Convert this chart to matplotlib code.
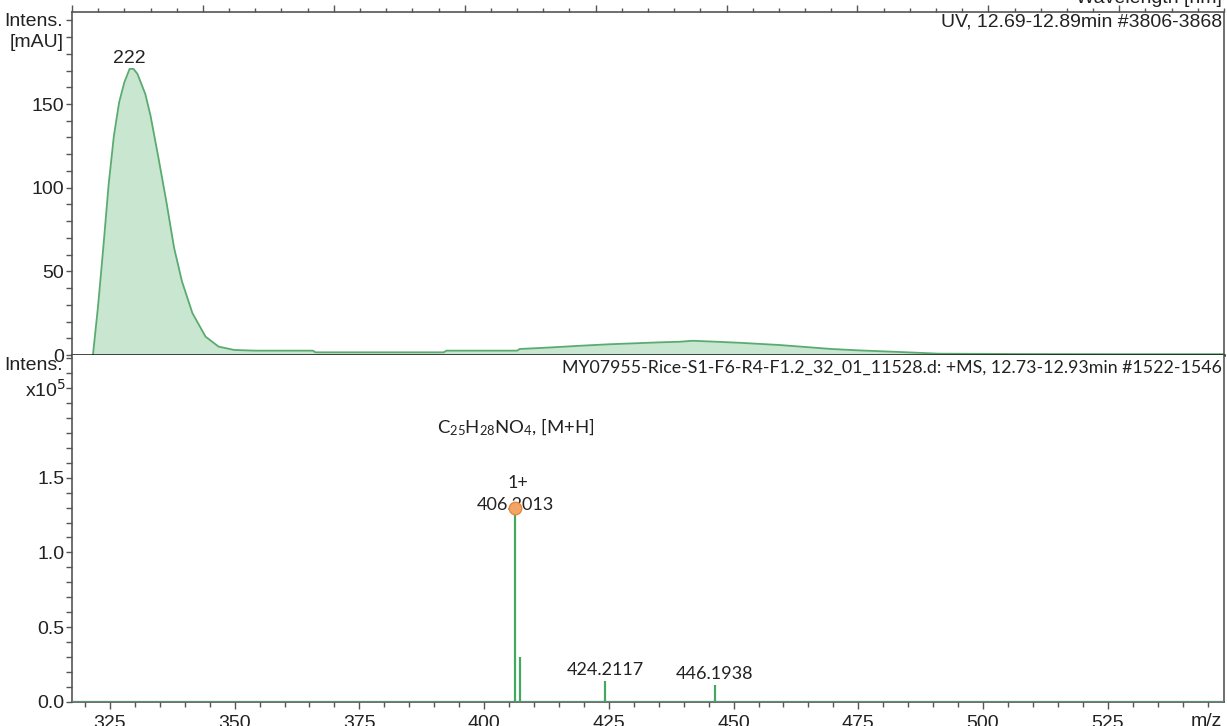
import matplotlib
matplotlib.use("Agg")
import numpy as np
import matplotlib.pyplot as plt
from matplotlib.ticker import MultipleLocator, FormatStrFormatter

plt.rcParams['font.family'] = ['Liberation Sans', 'DejaVu Sans']
plt.rcParams['mathtext.fontset'] = 'custom'
plt.rcParams['mathtext.rm'] = 'Lato'
plt.rcParams['mathtext.it'] = 'Lato:italic'
plt.rcParams['mathtext.bf'] = 'Lato:bold'

# --- UV spectrum (wavelength nm vs mAU) ---
uv_wl = [208, 210, 212, 214, 216, 218, 220, 222, 223.5, 225, 228, 230, 233, 236,
         239, 242, 246, 251, 256, 262, 270, 292, 293, 342, 343, 370, 371, 379,
         386, 395, 405, 415, 425, 432, 437, 445, 455, 470, 480, 490, 500, 516,
         531, 560, 600, 640]
uv_int = [0, 30, 65, 102, 131, 151, 163, 171, 171, 168, 156, 143, 118, 92,
          64, 44, 25, 11, 5, 3, 2.6, 2.6, 1.6, 1.6, 2.6, 2.6, 3.6, 4.2,
          4.8, 5.6, 6.4, 7.0, 7.6, 7.9, 8.5, 8.0, 7.3, 6.0, 4.8, 3.6, 2.8, 1.8,
          0.8, 0.6, 0.5, 0.5]
uv_peak_label = 222

# --- MS spectrum ---
ms_mz = [406.2013, 407.2046, 424.2117, 446.1938]
ms_int = [130000, 30200, 14200, 11500]
ms_labeled = [True, False, True, True]

uv_header = "UV, 12.69-12.89min #3806-3868"
ms_header = "MY07955-Rice-S1-F6-R4-F1.2_32_01_11528.d: +MS, 12.73-12.93min #1522-1546"
formula = r"C$_{25}$H$_{28}$NO$_{4}$, [M+H]"

green_fill = '#c9e6d1'
green_line = '#5aab70'
stick_green = '#45a862'
spine_grey = '#555555'
txt = '#222222'
fs = 14

W, H = 1227, 726
fig = plt.figure(figsize=(W / 100, H / 100), dpi=100)
ax_uv = fig.add_axes([72 / W, 1 - 355 / H, 1152 / W, 343 / H])
ax_ms = fig.add_axes([72 / W, 1 - 702 / H, 1152 / W, 347 / H])

# ---- UV panel ----
ax_uv.fill_between(uv_wl, uv_int, 0, color=green_fill, lw=0)
ax_uv.plot(uv_wl, uv_int, color=green_line, lw=1.3)
ax_uv.set_xlim(200, 640)
ax_uv.set_ylim(0, 205)
ax_uv.xaxis.tick_top()
ax_uv.set_xticks(np.arange(200, 650, 50))
ax_uv.set_xticklabels([str(v) if v < 600 else '' for v in range(200, 650, 50)])
ax_uv.xaxis.set_minor_locator(MultipleLocator(10))
ax_uv.set_yticks([0, 50, 100, 150])
ax_uv.yaxis.set_minor_locator(MultipleLocator(10))
ax_uv.tick_params(axis='x', which='major', direction='out', length=5, width=1,
                  pad=1.5, labelsize=fs, color=spine_grey, labelcolor=txt)
ax_uv.tick_params(axis='x', which='minor', direction='out', length=3, width=1,
                  color=spine_grey)
ax_uv.tick_params(axis='y', which='major', direction='out', length=4, width=1,
                  pad=1.5, labelsize=fs, color=spine_grey, labelcolor=txt)
ax_uv.tick_params(axis='y', which='minor', direction='out', length=4, width=1,
                  color=spine_grey)
for s in ['top', 'left', 'right']:
    ax_uv.spines[s].set_color(spine_grey)
    ax_uv.spines[s].set_linewidth(1.2)
ax_uv.spines['bottom'].set_color('#111111')
ax_uv.spines['bottom'].set_linewidth(1.8)
ax_uv.spines['bottom'].set_zorder(5)

ax_uv.annotate(str(uv_peak_label), (uv_peak_label, max(uv_int)), xytext=(0, 1),
               textcoords='offset points', ha='center', va='bottom', fontsize=fs,
               color=txt)
ax_uv.text(0.998, 0.971, uv_header, transform=ax_uv.transAxes, ha='right',
           va='center', fontsize=fs, color=txt)
ax_uv.text(-0.0075, 199.5, 'Intens.', transform=ax_uv.get_yaxis_transform(),
           ha='right', va='center', fontsize=fs, color=txt)
ax_uv.text(-0.0075, 187, '[mAU]', transform=ax_uv.get_yaxis_transform(),
           ha='right', va='center', fontsize=fs, color=txt)
fig.text(1222 / W, 1 - 3 / H, 'Wavelength [nm]', ha='right', va='baseline',
         fontsize=fs, color=txt)

# ---- MS panel ----
ms_y = np.array(ms_int) / 1e5
ax_ms.axhline(0, color='#5a9070', lw=1.6, zorder=4)
ax_ms.vlines(ms_mz, 0, ms_y, color=stick_green, lw=1.6, zorder=3)
ax_ms.plot(ms_mz[0], ms_y[0], 'o', ms=9, mfc='#f4a464', mec='#e08a45', mew=1,
           zorder=5)
ax_ms.set_xlim(317.4, 548.3)
ax_ms.set_ylim(0, 2.32)
ax_ms.set_xticks(np.arange(325, 550, 25))
ax_ms.xaxis.set_minor_locator(MultipleLocator(5))
ax_ms.set_yticks([0, 0.5, 1.0, 1.5])
ax_ms.yaxis.set_major_formatter(FormatStrFormatter('%.1f'))
ax_ms.yaxis.set_minor_locator(MultipleLocator(0.1))
ax_ms.tick_params(axis='x', which='major', direction='out', length=5, width=1,
                  pad=4.5, labelsize=fs, color=spine_grey, labelcolor=txt)
ax_ms.tick_params(axis='x', which='minor', direction='out', length=3.5, width=1,
                  color=spine_grey)
ax_ms.tick_params(axis='y', which='major', direction='out', length=4, width=1,
                  pad=1.5, labelsize=fs, color=spine_grey, labelcolor=txt)
ax_ms.tick_params(axis='y', which='minor', direction='out', length=4, width=1,
                  color=spine_grey)
ax_ms.spines['top'].set_visible(False)
for s in ['left', 'right', 'bottom']:
    ax_ms.spines[s].set_color(spine_grey)
    ax_ms.spines[s].set_linewidth(1.2)

for mz, y, lab in zip(ms_mz, ms_y, ms_labeled):
    if not lab:
        continue
    off = -2 if y > 1 else 4
    ax_ms.annotate(f'{mz:.4f}', (mz, y), xytext=(0, off), textcoords='offset points',
                   ha='center', va='baseline', fontsize=13, family='Lato',
                   color=txt)
ax_ms.annotate('1+', (ms_mz[0], ms_y[0]), xytext=(2, 14), textcoords='offset points',
               ha='center', va='baseline', fontsize=13, family='Lato', color=txt)
ax_ms.text(390.6, 1.795, formula, ha='left', va='baseline', fontsize=13.3,
           family='Lato', color=txt)

ax_ms.text(0.998, 0.965, ms_header, transform=ax_ms.transAxes, ha='right',
           va='center', fontsize=12.8, family='Lato', color=txt)
ax_ms.text(-0.0075, 2.25, 'Intens.', transform=ax_ms.get_yaxis_transform(),
           ha='right', va='center', fontsize=fs, color=txt)
ax_ms.text(-0.0055, 2.09, r'x10$^{5}$', transform=ax_ms.get_yaxis_transform(),
           ha='right', va='center', fontsize=fs, color=txt,
           math_fontfamily='dejavusans')
fig.text(1206 / W, 1 - 713 / H, 'm/z', ha='center', va='top', fontsize=fs,
         color=txt)

fig.savefig('out.png', dpi=100)
